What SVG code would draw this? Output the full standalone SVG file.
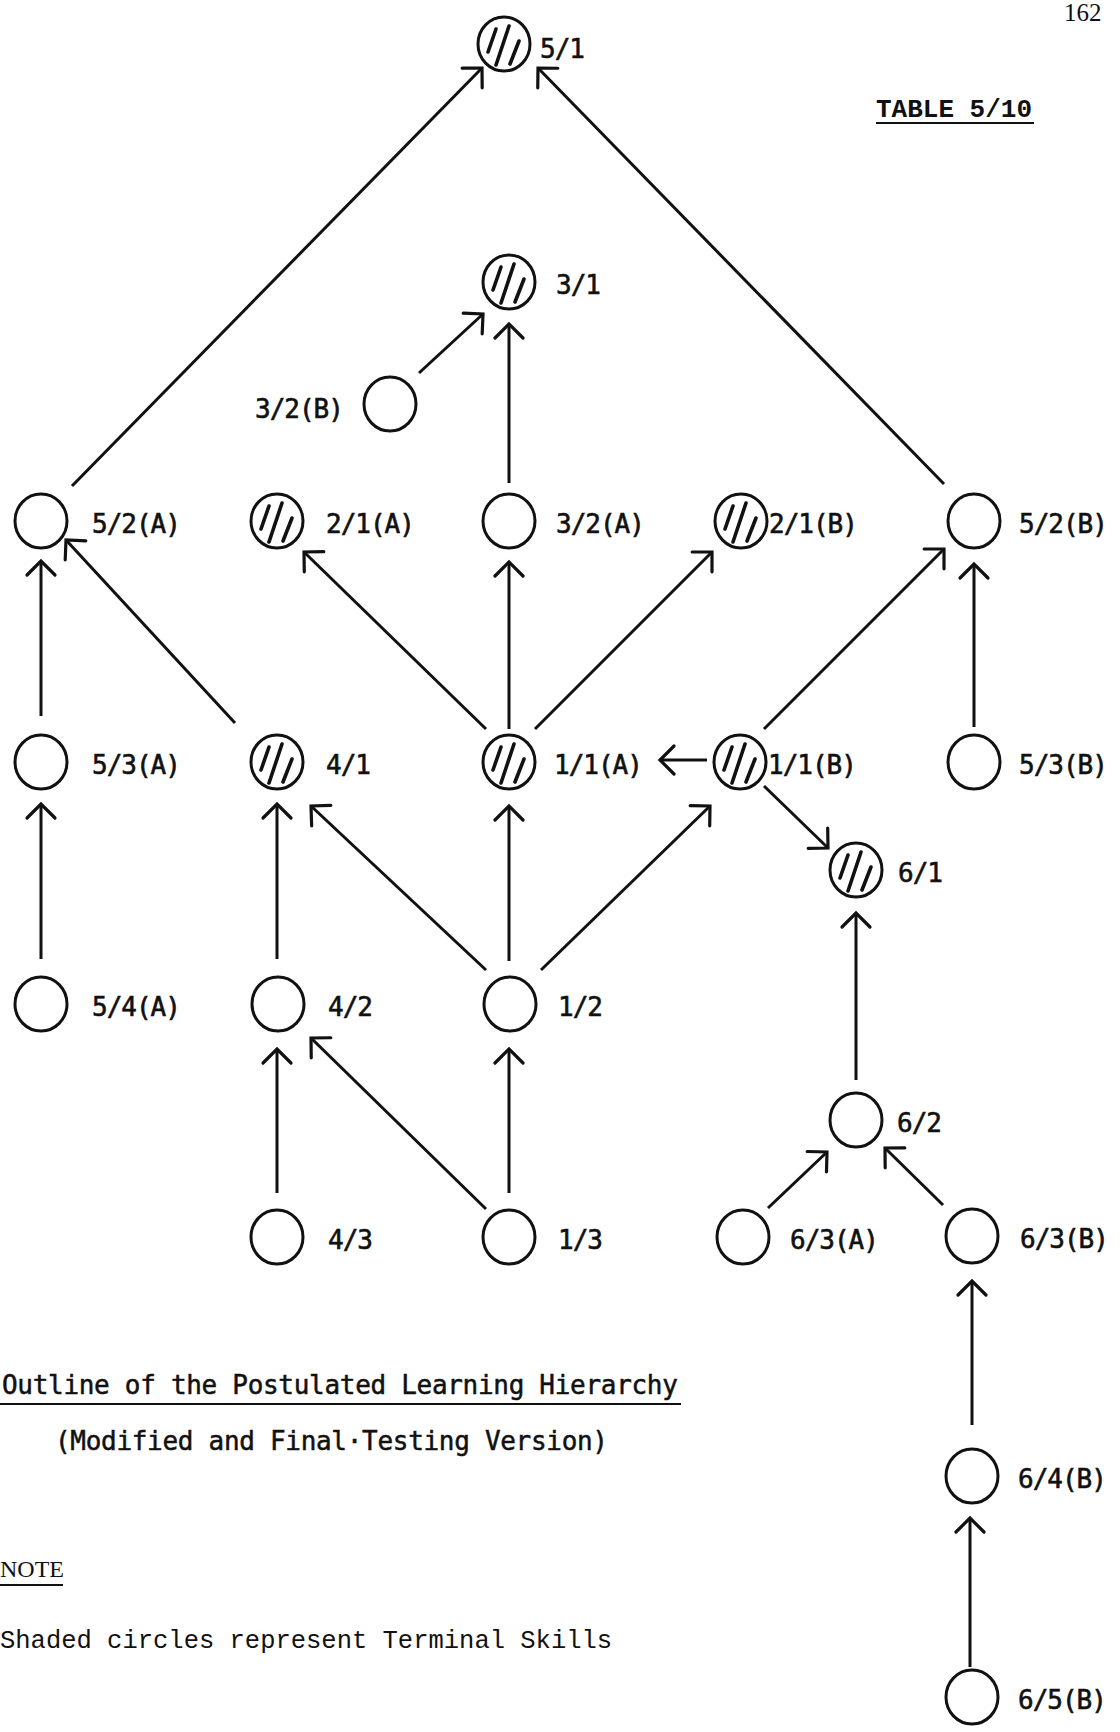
<svg xmlns="http://www.w3.org/2000/svg" width="1120" height="1732" viewBox="0 0 1120 1732">
<style>
  .c{fill:none;stroke:#111;stroke-width:3}
  .h line{stroke:#111;stroke-width:3.6;stroke-linecap:round}
  .lbl{font-family:"DejaVu Sans Mono","Liberation Mono",monospace;font-size:26px;letter-spacing:-1px;fill:#111;stroke:#111;stroke-width:0.6px}
  .cap{font-family:"DejaVu Sans Mono","Liberation Mono",monospace;font-size:26px;letter-spacing:-0.3px;fill:#111;stroke:#111;stroke-width:0.5px}
  .tw{font-family:"Liberation Mono","Courier New",monospace;fill:#111}
  .ser{font-family:"Liberation Serif","Times New Roman",serif;fill:#111}
  .ul{stroke:#111;stroke-width:2}
  #edges line{stroke:#111;stroke-width:3;marker-end:url(#ah)}
</style>
<defs>
  <marker id="ah" markerUnits="userSpaceOnUse" viewBox="-16 -16 20 32" markerWidth="20" markerHeight="32" refX="0" refY="0" orient="auto" overflow="visible">
    <path d="M-14,-14 L0,0 L-14,14" fill="none" stroke="#111" stroke-width="3.2" stroke-linecap="round" stroke-linejoin="miter"/>
  </marker>
  <!-- three diagonal strokes used for shaded (terminal skill) circles -->
  <g id="hatch" class="h">
    <line x1="-16" y1="8" x2="-8" y2="-15"/>
    <line x1="-8" y1="21" x2="5" y2="-18"/>
    <line x1="6" y1="20" x2="15" y2="-3"/>
  </g>
</defs>
<rect width="1120" height="1732" fill="#fff"/>

<!-- page header -->
<text class="ser" x="1064" y="21" font-size="25">162</text>
<text class="tw" x="876" y="117" font-size="26" font-weight="bold">TABLE 5/10</text>
<line class="ul" x1="876" y1="123" x2="1034" y2="123"/>

<!-- connectors -->
<g id="edges">
  <line x1="72" y1="486" x2="482" y2="68"/>
  <line x1="944" y1="484" x2="538" y2="68"/>
  <line x1="419" y1="373" x2="483" y2="314"/>
  <line x1="509" y1="483" x2="509" y2="324"/>
  <line x1="41" y1="716" x2="41" y2="561"/>
  <line x1="235" y1="723" x2="66" y2="540"/>
  <line x1="486" y1="729" x2="304" y2="552"/>
  <line x1="509" y1="729" x2="509" y2="562"/>
  <line x1="535" y1="729" x2="712" y2="552"/>
  <line x1="764" y1="729" x2="944" y2="549"/>
  <line x1="974" y1="727" x2="974" y2="564"/>
  <line x1="707" y1="760" x2="660" y2="760"/>
  <line x1="764" y1="786" x2="828" y2="848"/>
  <line x1="41" y1="959" x2="41" y2="804"/>
  <line x1="277" y1="959" x2="277" y2="804"/>
  <line x1="486" y1="970" x2="311" y2="806"/>
  <line x1="509" y1="961" x2="509" y2="806"/>
  <line x1="541" y1="970" x2="710" y2="806"/>
  <line x1="277" y1="1193" x2="277" y2="1049"/>
  <line x1="486" y1="1209" x2="311" y2="1038"/>
  <line x1="509" y1="1193" x2="509" y2="1049"/>
  <line x1="856" y1="1080" x2="856" y2="913"/>
  <line x1="768" y1="1208" x2="827" y2="1152"/>
  <line x1="943" y1="1205" x2="885" y2="1148"/>
  <line x1="972" y1="1425" x2="972" y2="1281"/>
  <line x1="970" y1="1667" x2="970" y2="1518"/>
</g>

<!-- nodes -->
<g id="n5-1"><ellipse class="c" cx="504" cy="44" rx="26" ry="27"/><use href="#hatch" x="504" y="44"/><text class="lbl" x="540" y="58">5/1</text></g>
<g id="n3-1"><ellipse class="c" cx="509" cy="282" rx="26" ry="27"/><use href="#hatch" x="509" y="282"/><text class="lbl" x="556" y="294">3/1</text></g>
<g id="n3-2B"><ellipse class="c" cx="390" cy="404" rx="26" ry="27"/><text class="lbl" x="255" y="418">3/2(B)</text></g>

<g id="n5-2A"><ellipse class="c" cx="41" cy="521" rx="26" ry="27"/><text class="lbl" x="92" y="533">5/2(A)</text></g>
<g id="n2-1A"><ellipse class="c" cx="277" cy="521" rx="26" ry="27"/><use href="#hatch" x="277" y="521"/><text class="lbl" x="326" y="533">2/1(A)</text></g>
<g id="n3-2A"><ellipse class="c" cx="509" cy="521" rx="26" ry="27"/><text class="lbl" x="556" y="533">3/2(A)</text></g>
<g id="n2-1B"><ellipse class="c" cx="741" cy="521" rx="26" ry="27"/><use href="#hatch" x="741" y="521"/><text class="lbl" x="769" y="533">2/1(B)</text></g>
<g id="n5-2B"><ellipse class="c" cx="974" cy="521" rx="26" ry="27"/><text class="lbl" x="1019" y="533">5/2(B)</text></g>

<g id="n5-3A"><ellipse class="c" cx="41" cy="762" rx="26" ry="27"/><text class="lbl" x="92" y="774">5/3(A)</text></g>
<g id="n4-1"><ellipse class="c" cx="277" cy="762" rx="26" ry="27"/><use href="#hatch" x="277" y="762"/><text class="lbl" x="326" y="774">4/1</text></g>
<g id="n1-1A"><ellipse class="c" cx="509" cy="762" rx="26" ry="27"/><use href="#hatch" x="509" y="762"/><text class="lbl" x="554" y="774">1/1(A)</text></g>
<g id="n1-1B"><ellipse class="c" cx="740" cy="762" rx="26" ry="27"/><use href="#hatch" x="740" y="762"/><text class="lbl" x="768" y="774">1/1(B)</text></g>
<g id="n5-3B"><ellipse class="c" cx="974" cy="762" rx="26" ry="27"/><text class="lbl" x="1019" y="774">5/3(B)</text></g>

<g id="n6-1"><ellipse class="c" cx="856" cy="870" rx="26" ry="27"/><use href="#hatch" x="856" y="870"/><text class="lbl" x="898" y="882">6/1</text></g>

<g id="n5-4A"><ellipse class="c" cx="41" cy="1004" rx="26" ry="27"/><text class="lbl" x="92" y="1016">5/4(A)</text></g>
<g id="n4-2"><ellipse class="c" cx="278" cy="1004" rx="26" ry="27"/><text class="lbl" x="328" y="1016">4/2</text></g>
<g id="n1-2"><ellipse class="c" cx="510" cy="1004" rx="26" ry="27"/><text class="lbl" x="558" y="1016">1/2</text></g>

<g id="n6-2"><ellipse class="c" cx="856" cy="1120" rx="26" ry="27"/><text class="lbl" x="897" y="1132">6/2</text></g>

<g id="n4-3"><ellipse class="c" cx="277" cy="1237" rx="26" ry="27"/><text class="lbl" x="328" y="1249">4/3</text></g>
<g id="n1-3"><ellipse class="c" cx="509" cy="1237" rx="26" ry="27"/><text class="lbl" x="558" y="1249">1/3</text></g>
<g id="n6-3A"><ellipse class="c" cx="743" cy="1237" rx="26" ry="27"/><text class="lbl" x="790" y="1249">6/3(A)</text></g>
<g id="n6-3B"><ellipse class="c" cx="972" cy="1236" rx="26" ry="27"/><text class="lbl" x="1020" y="1248">6/3(B)</text></g>

<g id="n6-4B"><ellipse class="c" cx="972" cy="1476" rx="26" ry="27"/><text class="lbl" x="1018" y="1488">6/4(B)</text></g>
<g id="n6-5B"><ellipse class="c" cx="972" cy="1697" rx="26" ry="27"/><text class="lbl" x="1018" y="1709">6/5(B)</text></g>

<!-- caption and note -->
<text class="cap" x="2" y="1394">Outline of the Postulated Learning Hierarchy</text>
<line class="ul" x1="0" y1="1404" x2="681" y2="1404"/>
<text class="cap" x="55" y="1450">(Modified and Final·Testing Version)</text>
<text class="ser" x="0" y="1577" font-size="24">NOTE</text>
<line class="ul" x1="0" y1="1585" x2="63" y2="1585"/>
<text class="tw" x="0" y="1648" font-size="25.5">Shaded circles represent Terminal Skills</text>
</svg>
